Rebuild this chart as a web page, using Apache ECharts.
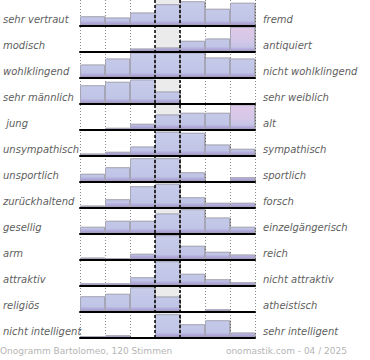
<!DOCTYPE html>
<html><head><meta charset="utf-8">
<script src="https://cdn.jsdelivr.net/npm/echarts@6/dist/echarts.min.js"></script>
<style>html,body{margin:0;padding:0;background:#fff}#c{width:370px;height:360px}</style>
</head><body><div id="c"></div>
<script>
// Left / right poles of each semantic scale
const leftLabels = ['sehr vertraut','modisch','wohlklingend','sehr männlich',' jung','unsympathisch','unsportlich','zurückhaltend','gesellig','arm','attraktiv','religiös','nicht intelligent'];
const rightLabels = ['fremd','antiquiert','nicht wohlklingend','sehr weiblich','alt','sympathisch','sportlich','forsch','einzelgängerisch','reich','nicht attraktiv','atheistisch','sehr intelligent'];
// Seven answer steps of each scale
const scaleSteps = ['1','2','3','4','5','6','7'];
// Relative vote share per step (0-100, highest bar of a row ~100)
const vertrautFremd      = [37, 32, 52, 85, 97, 67, 91];
const modischAntiquiert  = [0, 0, 12, 16, 43, 52, 99];
const wohlklingend       = [52, 76, 100, 100, 100, 80, 76];
const maennlichWeiblich  = [73, 87, 96, 48, 0, 0, 0];
const jungAlt            = [0, 7, 23, 60, 67, 67, 100];
const sympathisch        = [8, 15, 36, 95, 91, 44, 27];
const sportlich          = [31, 57, 93, 93, 37, 0, 17];
const zurueckForsch      = [8, 33, 85, 95, 41, 19, 19];
const geselligEinzeln    = [27, 51, 51, 80, 97, 64, 27];
const armReich           = [8, 5, 23, 97, 55, 31, 20];
const attraktiv          = [9, 9, 33, 97, 47, 25, 13];
const religioesAtheist   = [61, 71, 97, 60, 0, 9, 0];
const intelligent        = [5, 9, 0, 93, 53, 69, 20];

const rows = [vertrautFremd, modischAntiquiert, wohlklingend, maennlichWeiblich, jungAlt, sympathisch,
  sportlich, zurueckForsch, geselligEinzeln, armReich, attraktiv, religioesAtheist, intelligent];

const PITCH = 26, ROW_H = 25, LEFT = 80, WIDTH = 175;
const FONT = 'DejaVu Sans';
const totalH = PITCH * rows.length;

const grid = [{left: LEFT, width: WIDTH, top: 0, height: totalH}];
const xAxis = [{gridIndex: 0, type: 'value', min: 0, max: scaleSteps.length, interval: 1,
  axisLine: {show: false}, axisTick: {show: false}, axisLabel: {show: false},
  splitLine: {show: true, lineStyle: {color: '#8a8a8a', width: 1, type: [1, 2]}}}];
const yAxis = [{gridIndex: 0, type: 'value', min: 0, max: 1, show: false}];
const series = [
  {type: 'scatter', xAxisIndex: 0, yAxisIndex: 0, data: [], z: 1, silent: true,
   markArea: {silent: true, itemStyle: {color: '#ebebeb'}, data: [[{xAxis: 3}, {xAxis: 4}]]}},
  {type: 'scatter', xAxisIndex: 0, yAxisIndex: 0, data: [], z: 10, silent: true,
   markLine: {silent: true, symbol: 'none', label: {show: false},
     lineStyle: {color: '#000', width: 1.5, type: [3, 2]},
     data: [{xAxis: 3}, {xAxis: 4}]}}
];

rows.forEach((vals, i) => {
  const top = i * PITCH + 0.5;
  const base = top + ROW_H;
  const gi = i + 1;
  grid.push({left: LEFT, width: WIDTH, top: top, height: ROW_H});
  xAxis.push({gridIndex: gi, type: 'category', data: scaleSteps, z: 5,
    axisLine: {show: true, lineStyle: {color: '#000', width: 2}},
    axisTick: {show: false}, axisLabel: {show: false}, splitLine: {show: false}});
  yAxis.push({gridIndex: gi, type: 'value', min: 0, max: 100, show: false});
  const grad = stops => ({type: 'linear', x: 0, y: top, x2: 0, y2: base, global: true, colorStops: stops});
  const blue = grad([{offset: 0, color: '#c9cdeb'}, {offset: 0.8, color: '#c0c4e6'}, {offset: 1, color: '#a08ecb'}]);
  const pink = grad([{offset: 0, color: '#dfc8e7'}, {offset: 0.55, color: '#d6c8e8'}, {offset: 0.82, color: '#c4c4e6'}, {offset: 1, color: '#a08ecb'}]);
  const mx = Math.max(...vals);
  series.push({
    type: 'bar', xAxisIndex: gi, yAxisIndex: gi, barWidth: '100%', barCategoryGap: 0, z: 2, silent: true,
    itemStyle: {color: blue, borderColor: '#a6a6b6', borderWidth: 1,
      shadowColor: 'rgba(0,0,0,0.3)', shadowOffsetX: 1, shadowBlur: 1},
    data: vals.map((v, j) => (j === vals.length - 1 && v === mx)
      ? {value: v, itemStyle: {color: pink}} : v)
  });
});

// label grid: bands shifted so labels sit just above each baseline
const lg = grid.length;
grid.push({left: LEFT, width: WIDTH, top: 6.5, height: totalH});
xAxis.push({gridIndex: lg, type: 'value', show: false});
const labelStyle = {interval: 0, align: 'left', color: '#606060', fontStyle: 'italic', fontFamily: FONT, fontSize: 10};
yAxis.push({gridIndex: lg, type: 'category', position: 'left', inverse: true, data: leftLabels,
  axisLine: {show: false}, axisTick: {show: false}, splitLine: {show: false},
  axisLabel: Object.assign({margin: 80}, labelStyle)});
yAxis.push({gridIndex: lg, type: 'category', position: 'right', inverse: true, data: rightLabels,
  axisLine: {show: false}, axisTick: {show: false}, splitLine: {show: false},
  axisLabel: Object.assign({margin: 8}, labelStyle)});

const footStyle = {fontSize: 9, color: '#b5b5b5', fontWeight: 'normal', fontFamily: FONT};
const chart = echarts.init(document.getElementById('c'), null, {renderer: 'svg'});
chart.setOption({
  animation: false,
  backgroundColor: '#fff',
  title: [
    {text: 'Onogramm Bartolomeo, 120 Stimmen', left: 0, top: 346, padding: 0, textStyle: footStyle},
    {text: 'onomastik.com - 04 / 2025', right: 23, top: 346, padding: 0, textStyle: footStyle}
  ],
  grid, xAxis, yAxis, series
});
</script></body></html>
